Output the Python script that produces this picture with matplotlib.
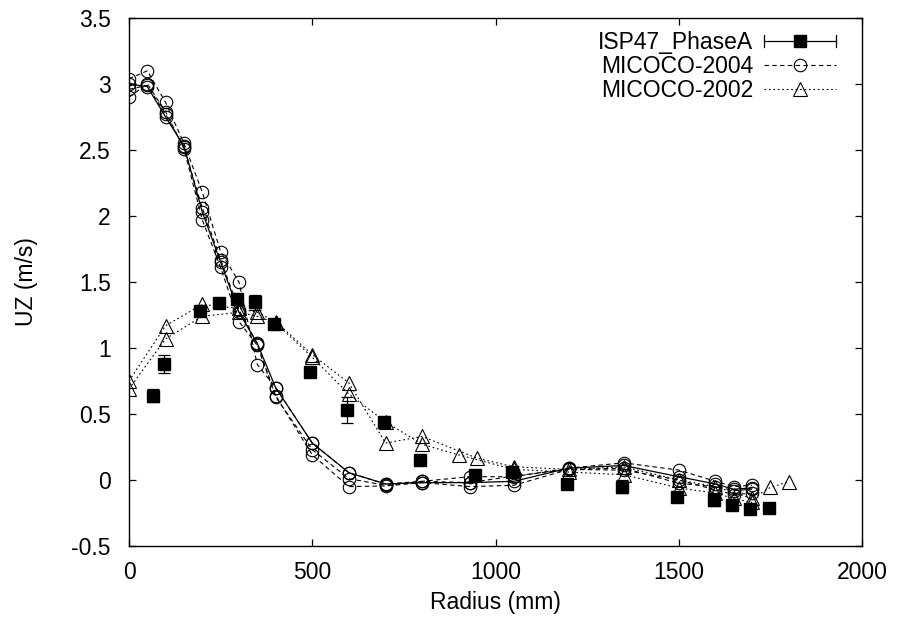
import matplotlib
matplotlib.use("Agg")
import matplotlib.pyplot as plt
from matplotlib.lines import Line2D
from matplotlib.legend_handler import HandlerBase

plt.rcParams['font.family'] = ['Liberation Sans', 'DejaVu Sans']

# ---- data ----
isp_x = [65, 95, 195, 245, 295, 345, 395, 495, 595, 695, 795, 945, 1045, 1195, 1345, 1495, 1595, 1645, 1695, 1745]
isp_y = [0.64, 0.88, 1.28, 1.34, 1.37, 1.345, 1.18, 0.82, 0.53, 0.44, 0.15, 0.04, 0.06, -0.03, -0.05, -0.13, -0.15, -0.19, -0.22, -0.215]
isp_err = [0.05, 0.07, 0.02, 0.01, 0.02, 0.055, 0.02, 0.02, 0.1, 0.02, 0.02, 0.02, 0.03, 0.02, 0.05, 0.02, 0.05, 0.02, 0.02, 0.02]

c_x = [0, 50, 100, 150, 200, 250, 300, 350, 400, 500, 600, 700, 800, 930, 1050, 1200, 1350, 1500, 1600, 1650, 1700]
c1_y = [3.04, 3.10, 2.86, 2.55, 2.18, 1.73, 1.50, 0.875, 0.70, 0.28, 0.055, -0.03, -0.01, 0.025, 0.025, 0.09, 0.13, 0.075, -0.01, -0.05, -0.04]
c2_y = [3.00, 2.98, 2.75, 2.53, 2.03, 1.65, 1.27, 1.035, 0.70, 0.28, 0.055, -0.03, -0.02, -0.02, -0.01, 0.09, 0.11, 0.025, -0.03, -0.07, -0.06]
c3_y = [2.96, 2.99, 2.77, 2.52, 2.06, 1.67, 1.29, 1.03, 0.64, 0.19, -0.05, -0.045, -0.02, -0.05, -0.04, 0.08, 0.075, 0.0, -0.075, -0.11, -0.10]
c4_y = [2.90, 3.00, 2.79, 2.51, 1.97, 1.61, 1.20, 1.02, 0.63, 0.23, 0.01, -0.04, -0.01, -0.02, 0.03, 0.08, 0.09, -0.025, -0.05, -0.08, -0.07]

t1_x = [0, 100, 200, 300, 350, 400, 500, 600, 700, 800, 950, 1050, 1200, 1350, 1500, 1600, 1700, 1750, 1800]
t1_y = [0.75, 1.17, 1.33, 1.30, 1.27, 1.20, 0.95, 0.735, 0.28, 0.33, 0.165, 0.10, 0.08, 0.10, 0.0, -0.05, -0.14, -0.056, -0.013]
t2_x = [0, 100, 200, 300, 350, 400, 500, 600, 700, 800, 900, 1050, 1200, 1350, 1500, 1600, 1650, 1700]
t2_y = [0.69, 1.07, 1.24, 1.27, 1.24, 1.19, 0.93, 0.65, 0.44, 0.27, 0.19, 0.08, 0.06, 0.04, -0.06, -0.10, -0.14, -0.17]

labels = ["ISP47_PhaseA", "MICOCO-2004", "MICOCO-2002"]
x_ticks = [0, 500, 1000, 1500, 2000]
y_ticks = [-0.5, 0, 0.5, 1, 1.5, 2, 2.5, 3, 3.5]
y_ticklabels = ['-0.5', '0', '0.5', '1', '1.5', '2', '2.5', '3', '3.5']

FS = 16.5

# ---- figure ----
fig = plt.figure(figsize=(9, 6.25), dpi=100)
W, H = 900, 625
L, R, T, B = 129, 862, 18, 546
ax = fig.add_axes([L / W, 1 - B / H, (R - L) / W, (B - T) / H])

dash = (0, (4, 3))
dot = (0, (1.5, 2.5))
ms_c = 9

for ys in (c1_y, c3_y, c4_y):
    ax.plot(c_x, ys, color='k', lw=0.8, ls=dash, marker='o', ms=ms_c,
            mfc='none', mec='k', mew=0.8)
ax.plot(c_x, c2_y, color='k', lw=0.9, ls='-', marker='o', ms=ms_c,
        mfc='none', mec='k', mew=0.8)

for xs, ys in ((t1_x, t1_y), (t2_x, t2_y)):
    ax.plot(xs, ys, color='k', lw=0.8, ls=dot, marker='^', ms=9.5,
            mfc='none', mec='k', mew=0.8)

ax.errorbar(isp_x, isp_y, yerr=isp_err, fmt='s', color='k', ms=8.7,
            ecolor='k', elinewidth=0.9, capsize=4.5, capthick=0.9)

ax.set_xlim(0, 2000)
ax.set_ylim(-0.5, 3.5)
ax.set_xticks(x_ticks)
ax.set_yticks(y_ticks)
ax.set_yticklabels(y_ticklabels)
ax.tick_params(direction='in', top=True, right=True, length=5, width=0.9,
               labelsize=FS)
ax.tick_params(axis='x', pad=11)
ax.tick_params(axis='y', pad=13)
for s in ax.spines.values():
    s.set_linewidth(1.0)
ax.set_xlabel("Radius (mm)", fontsize=FS, va='center')
ax.set_ylabel("UZ (m/s)", fontsize=FS, va='center')
ax.xaxis.set_label_coords(0.5, (B - 603) / (B - T))
ax.yaxis.set_label_coords((27 - L) / (R - L), 0.5)


class HandlerErrLine(HandlerBase):
    def create_artists(self, legend, orig_handle, xdescent, ydescent,
                       width, height, fontsize, trans):
        y = (height - ydescent) / 2.0
        x0, x1 = -xdescent, width - xdescent
        ch = 4
        arts = [Line2D([x0, x1], [y, y], color='k', lw=0.9),
                Line2D([x0, x0], [y - ch, y + ch], color='k', lw=0.9),
                Line2D([x1, x1], [y - ch, y + ch], color='k', lw=0.9),
                Line2D([(x0 + x1) / 2], [y], marker='s', ms=8.7, color='k', ls='none')]
        for a in arts:
            a.set_transform(trans)
        return arts


h_isp = Line2D([], [], color='k')
h_c = Line2D([], [], color='k', lw=0.8, ls=dash, marker='o', ms=ms_c, mfc='none', mec='k', mew=0.8)
h_t = Line2D([], [], color='k', lw=0.8, ls=dot, marker='^', ms=9.5, mfc='none', mec='k', mew=0.8)

leg = fig.legend([h_isp, h_c, h_t], labels, handler_map={h_isp: HandlerErrLine()},
                 loc='upper right', bbox_to_anchor=(836 / W, 1 - 31 / H), frameon=False,
                 markerfirst=False, fontsize=FS, handlelength=3.15,
                 handletextpad=0.45, labelspacing=0.05, borderpad=0.0,
                 borderaxespad=0.0)

fig.savefig("out.png", dpi=100)
